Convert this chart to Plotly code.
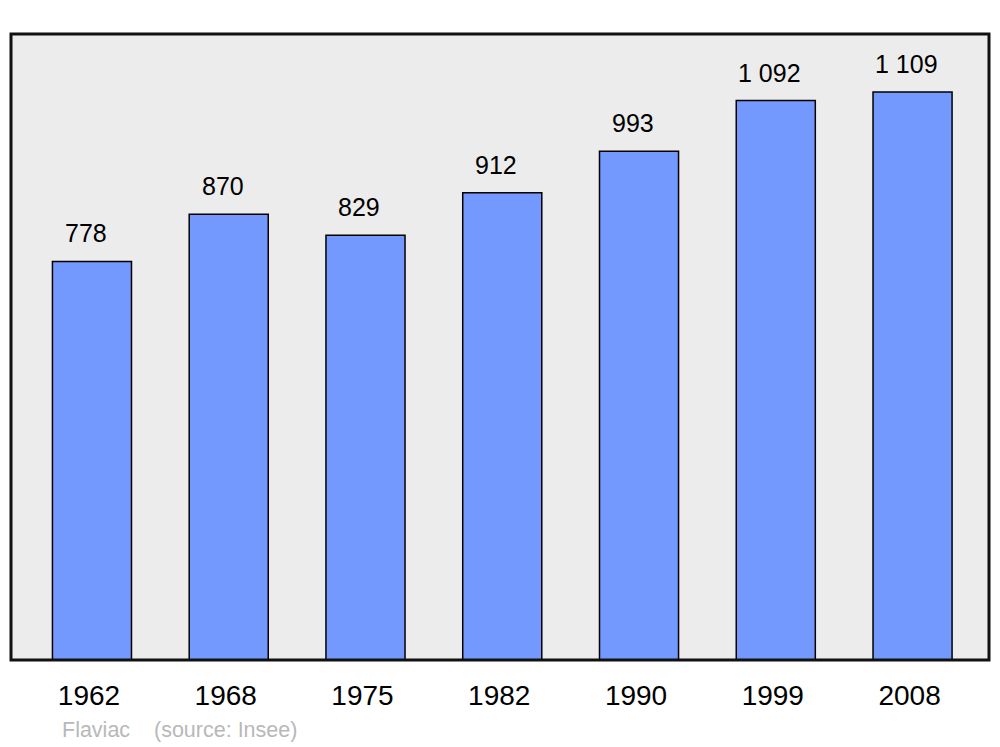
import plotly.graph_objects as go

years = ["1962", "1968", "1975", "1982", "1990", "1999", "2008"]
population = [778, 870, 829, 912, 993, 1092, 1109]
value_labels = ["778", "870", "829", "912", "993", "1 092", "1 109"]
commune = "Flaviac"
source = "(source: Insee)"

xpos = list(range(len(years)))
FONT = "Liberation Sans, Arial, sans-serif"

fig = go.Figure()
fig.add_trace(go.Bar(
    x=xpos, y=population, width=0.578,
    marker=dict(color="#7399ff", line=dict(color="#000000", width=1.5)),
    hoverinfo="skip",
))

for xi, v, lab in zip(xpos, population, value_labels):
    fig.add_annotation(x=xi, y=v, text=lab, showarrow=False, xshift=-6, yshift=28,
                       font=dict(family=FONT, size=25, color="#000"))

fig.add_annotation(xref="paper", yref="paper", x=0.050, y=-0.112, xanchor="left", yanchor="middle",
                   text=commune, showarrow=False,
                   font=dict(family=FONT, size=21.5, color="#b8b8b8"))
fig.add_annotation(xref="paper", yref="paper", x=0.144, y=-0.112, xanchor="left", yanchor="middle",
                   text=source, showarrow=False,
                   font=dict(family=FONT, size=21.5, color="#b8b8b8"))

fig.add_shape(type="rect", xref="paper", yref="paper", x0=0, y0=0, x1=1, y1=1,
              line=dict(color="#111111", width=3), layer="above")

fig.update_layout(
    width=1000, height=747,
    margin=dict(l=3, r=19, t=26, b=95),
    paper_bgcolor="#ffffff", plot_bgcolor="#ececec",
    showlegend=False,
    xaxis=dict(range=[-0.592, 6.559], tickvals=xpos, ticktext=years, showgrid=False, zeroline=False,
               ticks="outside", ticklen=10, tickcolor="rgba(0,0,0,0)", ticklabelshift=-3,
               tickfont=dict(family=FONT, size=28, color="#000")),
    yaxis=dict(range=[0, 1222], showgrid=False, zeroline=False, showticklabels=False),
)

fig.write_html("out.html")
